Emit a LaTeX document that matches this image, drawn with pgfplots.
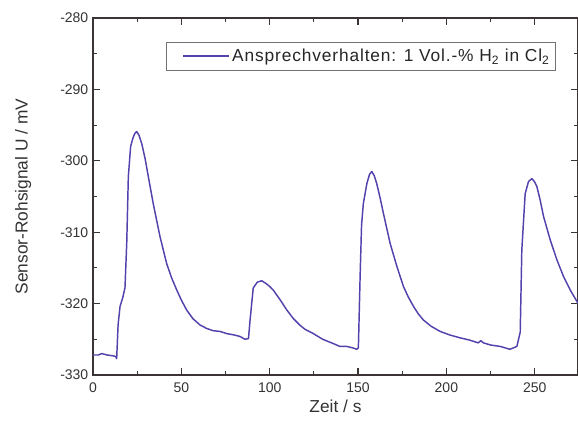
\documentclass[border=0pt]{standalone}
\usepackage{pgfplots}
\pgfplotsset{compat=1.18}
\usepackage{fontspec}
\setmainfont{Liberation Sans}
\newfontfamily\legfont[LetterSpace=5]{Liberation Sans}
\definecolor{trace}{RGB}{82,66,172}
\definecolor{axisgray}{RGB}{60,52,52}

\begin{document}
\begin{tikzpicture}
\useasboundingbox (-69.75pt,-36pt) rectangle (363.75pt,281.25pt);
\begin{axis}[
  at={(0pt,0pt)}, anchor=south west,
  scale only axis,
  width=363.75pt, height=267.75pt,
  xmin=0, xmax=274.5,
  ymin=-330, ymax=-280,
  xtick={0,50,...,250},
  ytick={-330,-320,...,-280},
  minor xtick={25,75,...,275},
  minor ytick={-325,-315,...,-285},
  tick align=inside,
  major tick length=5pt,
  minor tick length=3pt,
  axis line style={axisgray, line width=0.8pt},
  every tick/.style={axisgray, line width=0.8pt},
  /pgf/number format/assume math mode=true,
  ticklabel style={font=\fontsize{10.5}{12}\selectfont, text=black!80},
  xticklabel style={yshift=-2pt},
  xlabel={Zeit / s},
  ylabel={Sensor-Rohsignal U / mV},
  label style={font=\fontsize{13}{15}\selectfont, text=black!80},
  xlabel style={yshift=1pt},
  ylabel style={yshift=15pt},
  legend style={at={(0.953,0.933)}, anchor=north east,
    draw=black!55, font=\legfont\fontsize{13}{15}\selectfont, text=black!85,
    inner xsep=2pt, inner ysep=3pt, cells={anchor=west}},
  legend image code/.code={
    \path (0pt,0pt);
    \draw[#1] (10pt,0pt) -- (44pt,0pt);},
]
\addplot[trace, line width=1.1pt, line join=round] coordinates {
(0,-327.2) (3,-327.2) (5,-327.0) (8,-327.2) (11,-327.3) (12.8,-327.4)
(13.4,-327.7) (14.2,-323) (15.3,-320.4) (16.8,-319.2) (18.1,-317.8)
(19.1,-311.5) (20,-302.2) (21.3,-298) (22.5,-296.9) (23.6,-296.2) (24.7,-295.9)
(26,-296.4) (27.6,-297.6) (29.5,-299.7) (31.3,-302.2) (34.1,-306) (37.9,-310.6)
(41.7,-314.4) (44.5,-316.4) (47.4,-318.1) (50,-319.5) (53,-320.9) (56.5,-322.1)
(60.6,-323) (64.5,-323.5) (68.1,-323.8) (71.9,-323.9) (75.7,-324.2)
(80,-324.4) (83.2,-324.6) (86,-325.0) (88,-324.9) (88.9,-322.3) (90.7,-317.8)
(93,-317.0) (95.5,-316.8) (98,-317.2) (100,-317.6) (102,-318.1) (104,-318.8) (106,-319.5)
(109.7,-320.9) (113.4,-322.1) (117,-323) (120,-323.6) (124.7,-324.2) (130,-325)
(136,-325.6) (139.8,-326) (143.6,-326.0) (147,-326.2) (149.3,-326.4) (150.2,-326.2)
(151.2,-316) (152,-309) (153,-306) (155,-303.2) (156.5,-301.9) (157.8,-301.5)
(159.2,-302.1) (160.6,-303.2) (162.5,-305.2) (164.4,-307.4) (168.2,-311.6)
(172,-314.8) (175.7,-317.6) (178.5,-319.1) (181.4,-320.4) (184,-321.4) (187,-322.3)
(191.5,-323.2) (196.5,-323.9) (202,-324.4) (207.8,-324.8) (213,-325.1) (218,-325.5)
(219.5,-325.2) (221,-325.5) (225,-325.8) (230.5,-326) (236,-326.4) (239.9,-326)
(241.8,-324) (242.7,-312.5) (244.6,-304.6) (246.5,-302.9) (248.4,-302.5)
(249.8,-302.9) (251.2,-303.6) (253,-305.4) (255,-307.8) (258.8,-311.1) (262.6,-313.9)
(266.3,-316.2) (270.1,-318.1) (273.9,-319.7) (274.6,-320.0)
};
\addlegendentry{Ansprechverhalten: 1 Vol.-\% H\textsubscript{2} in Cl\textsubscript{2}}
\end{axis}
\end{tikzpicture}
\end{document}
